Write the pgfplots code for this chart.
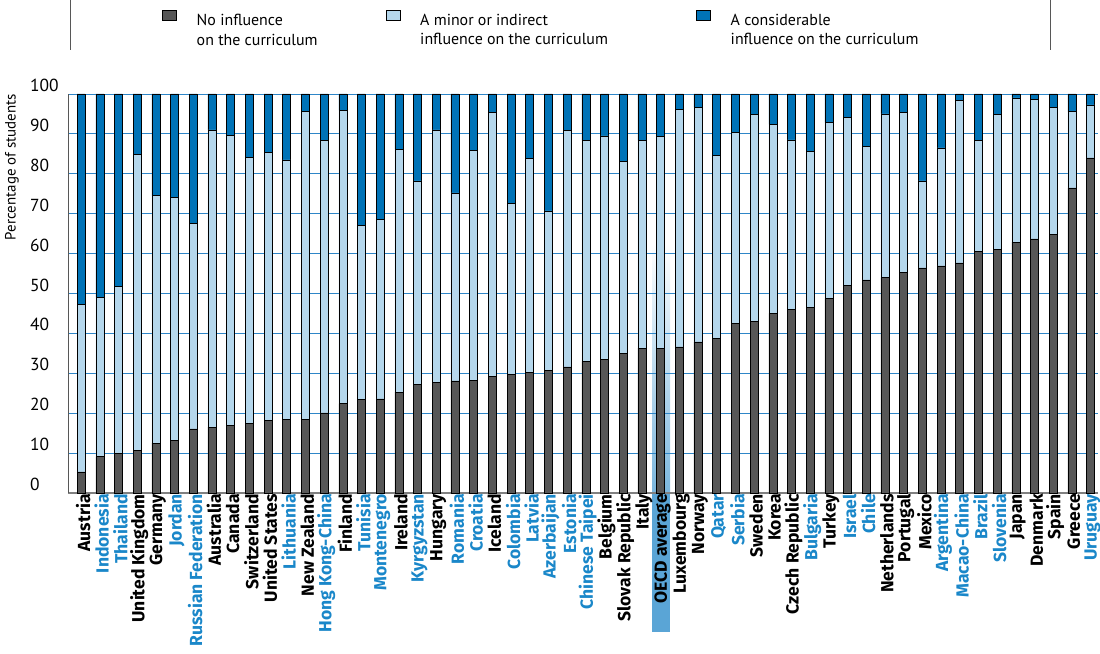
\documentclass[border=0pt]{standalone}
\usepackage{pgfplots}
\pgfplotsset{compat=1.18}
\usepackage{pgfplotstable}
\usepackage{fontspec}
\setmainfont{PT Sans}
\newfontfamily\labfont{Fira Sans}
\definecolor{noinf}{HTML}{575757}
\definecolor{minorinf}{HTML}{B5D7EC}
\definecolor{consinf}{HTML}{0073B7}
\definecolor{gridblue}{HTML}{2E86C8}
\definecolor{labblue}{HTML}{1A87C9}
\definecolor{oecdblue}{HTML}{5AA5D6}
\pgfplotstableread{
x no minor cons
0 5.3 41.9 52.8
1 9.1 39.9 51.0
2 9.9 41.8 48.3
3 10.7 74.1 15.2
4 12.5 62.0 25.5
5 13.1 60.9 26.0
6 16.1 51.4 32.5
7 16.5 74.5 9.0
8 17.0 72.7 10.3
9 17.4 66.8 15.8
10 18.2 67.1 14.7
11 18.4 65.1 16.5
12 18.4 77.2 4.4
13 20.1 68.3 11.6
14 22.4 73.5 4.1
15 23.4 43.7 32.9
16 23.6 44.9 31.5
17 25.3 60.8 13.9
18 27.2 51.0 21.8
19 27.7 63.3 9.0
20 28.1 47.1 24.8
21 28.3 57.5 14.2
22 29.3 66.0 4.7
23 29.8 42.8 27.4
24 30.2 53.6 16.2
25 30.7 40.0 29.3
26 31.6 59.2 9.2
27 33.0 55.3 11.7
28 33.5 56.0 10.5
29 35.0 48.2 16.8
30 36.3 52.1 11.6
31 36.3 53.0 10.7
32 36.6 59.6 3.8
33 37.9 58.8 3.3
34 38.7 45.9 15.4
35 42.6 47.7 9.7
36 43.1 51.8 5.1
37 45.0 47.4 7.6
38 46.1 42.4 11.5
39 46.5 39.1 14.4
40 48.7 44.1 7.2
41 52.1 42.1 5.8
42 53.4 33.4 13.2
43 54.0 41.0 5.0
44 55.2 40.1 4.7
45 56.4 21.8 21.8
46 56.9 29.6 13.5
47 57.7 40.7 1.6
48 60.6 27.8 11.6
49 61.1 33.7 5.2
50 62.9 36.1 1.0
51 63.7 34.9 1.4
52 64.9 31.7 3.4
53 76.5 19.1 4.4
54 84.0 13.3 2.7
}\datatable
\newcommand{\bl}[1]{\textcolor{labblue}{#1}}
\begin{document}
\begin{tikzpicture}
\path[use as bounding box] (0bp,0bp) rectangle (1100bp,654bp);
\draw[noinf, line width=1bp] (70bp,654bp) -- (70bp,604bp);
\draw[noinf, line width=1bp] (1050bp,654bp) -- (1050bp,604bp);
\shade[bottom color=oecdblue!80, top color=white] (652bp,161bp) rectangle (670bp,410bp);
\fill[oecdblue] (652bp,161bp) rectangle (670bp,22bp);
\node[rotate=90, anchor=east, font=\fontsize{15}{17}\selectfont, inner sep=0pt] at (12bp,560bp) {Percentage of students};
\begin{axis}[
  at={(68bp,161bp)}, anchor=south west,
  scale only axis, width=1030bp, height=399bp,
  xmin=-0.7, xmax=54.4, ymin=0, ymax=100,
  ybar stacked, bar width=8bp,
  xtick={0,1,...,54},
  xticklabels={Austria,\bl{Indonesia},\bl{Thailand},United Kingdom,Germany,\bl{Jordan},\bl{Russian Federation},Australia,Canada,Switzerland,United States,\bl{Lithuania},New Zealand,\bl{Hong Kong-China},Finland,\bl{Tunisia},\bl{Montenegro},Ireland,\bl{Kyrgyzstan},Hungary,\bl{Romania},\bl{Croatia},Iceland,\bl{Colombia},\bl{Latvia},\bl{Azerbaijan},\bl{Estonia},\bl{Chinese Taipei},Belgium,Slovak Republic,Italy,OECD average,Luxembourg,Norway,\bl{Qatar},\bl{Serbia},Sweden,Korea,Czech Republic,\bl{Bulgaria},Turkey,\bl{Israel},\bl{Chile},Netherlands,Portugal,Mexico,\bl{Argentina},\bl{Macao-China},\bl{Brazil},\bl{Slovenia},Japan,Denmark,Spain,Greece,\bl{Uruguay}},
  xticklabel style={rotate=90, anchor=east, font=\labfont\bfseries\fontsize{17.6}{18}\selectfont, inner sep=1bp, yshift=-2bp},
  ytick={0,10,...,100},
  yticklabel style={anchor=south west, xshift=-38bp, yshift=2bp, inner sep=0pt, font=\fontsize{17.5}{18}\selectfont},
  /pgf/number format/assume math mode=true,
  ymajorgrids, major grid style={gridblue, line width=0.8bp},
  major tick length=0pt,
  axis x line*=bottom, axis y line*=left,
  x axis line style={-, draw=gray, line width=1.5bp},
  y axis line style={-, draw=noinf, line width=0.6bp},
  clip=false,
  legend columns=3,
  legend cell align=left,
  legend style={at={(axis description cs:0.0913,1.21)}, anchor=north west, draw=none, fill=none,
    font=\fontsize{16}{19.5}\selectfont, inner sep=0pt,
    nodes={inner sep=0pt},
    /tikz/every odd column/.append style={column sep=20bp}},
  mylegend/.style={legend image code/.code={\draw[##1, draw=black, line width=0.5bp] (0bp,0bp) rectangle (14bp,10bp);}},
]
\addplot[fill=noinf, draw=black, line width=0.5bp, mylegend] table[x=x, y=no] {\datatable};
\addlegendentry{\parbox[t]{189bp}{No influence\\on the curriculum}}
\addplot[fill=minorinf, draw=black, line width=0.5bp, mylegend] table[x=x, y=minor] {\datatable};
\addlegendentry{\parbox[t]{276bp}{A minor or indirect\\influence on the curriculum}}
\addplot[fill=consinf, draw=black, line width=0.5bp, mylegend] table[x=x, y=cons] {\datatable};
\addlegendentry{\parbox[t]{240bp}{A considerable\\influence on the curriculum}}
\end{axis}
\end{tikzpicture}
\end{document}
